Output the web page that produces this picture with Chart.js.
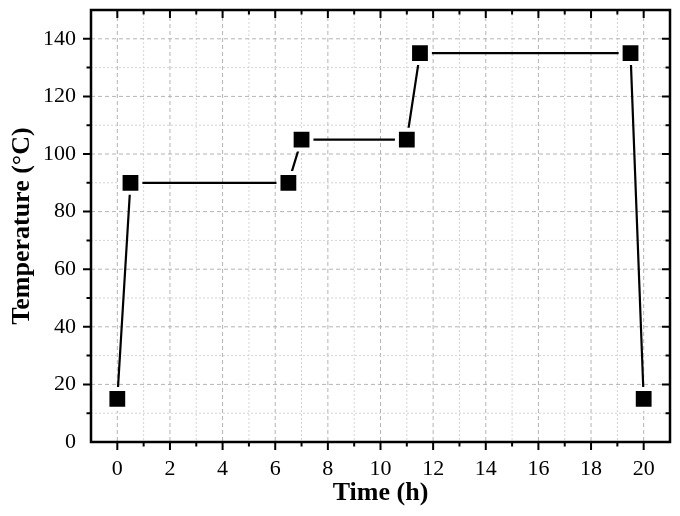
<!DOCTYPE html>
<html>
<head>
<meta charset="utf-8">
<script src="https://cdn.jsdelivr.net/npm/chart.js@4"></script>
<style>
  html, body { margin: 0; padding: 0; background: #fff; }
  #wrap { width: 680px; height: 516px; }
</style>
</head>
<body>
<div id="wrap"><canvas id="myChart"></canvas></div>
<script>
  // heating program: time in hours, temperature in °C
  const timeH = [0, 0.5, 6.5, 7, 11, 11.5, 19.5, 20];
  const tempC = [15, 90, 90, 105, 105, 135, 135, 15];
  const xTickLabels = [0, 2, 4, 6, 8, 10, 12, 14, 16, 18, 20];
  const yTickLabels = [0, 20, 40, 60, 80, 100, 120, 140];

  const serif = "'Liberation Serif', 'Times New Roman', serif";

  // no extra room for half labels at the axis ends
  const noPad = (s) => {
    s.paddingTop = 0;
    s.paddingBottom = 0;
    s.paddingLeft = 0;
    s.paddingRight = 0;
  };

  // grid lines (major dashed, minor dotted) + frame with Origin-style ticks
  const framePlugin = {
    id: "frame",
    beforeDatasetsDraw(chart) {
      const { ctx, chartArea: a, scales: { x, y } } = chart;
      ctx.save();
      ctx.lineWidth = 1;
      x.ticks.forEach((t) => {
        const px = x.getPixelForValue(t.value);
        const major = t.value % 2 === 0;
        ctx.strokeStyle = major ? "#b4b4b4" : "#d4d4d4";
        ctx.setLineDash(major ? [4, 3] : [2, 2]);
        ctx.beginPath();
        ctx.moveTo(px, a.top);
        ctx.lineTo(px, a.bottom);
        ctx.stroke();
      });
      y.ticks.forEach((t) => {
        const py = y.getPixelForValue(t.value);
        const major = t.value % 20 === 0;
        ctx.strokeStyle = major ? "#b4b4b4" : "#d4d4d4";
        ctx.setLineDash(major ? [4, 3] : [2, 2]);
        ctx.beginPath();
        ctx.moveTo(a.left, py);
        ctx.lineTo(a.right, py);
        ctx.stroke();
      });
      ctx.restore();
    },
    afterDraw(chart) {
      const { ctx, chartArea: a, scales: { x, y } } = chart;
      ctx.save();
      ctx.setLineDash([]);
      ctx.strokeStyle = "#000";
      ctx.lineWidth = 2.5;
      ctx.strokeRect(a.left, a.top, a.right - a.left, a.bottom - a.top);
      ctx.lineWidth = 2;
      x.ticks.forEach((t) => {
        if (t.value < 0 || t.value > 20) return;
        const px = x.getPixelForValue(t.value);
        const len = t.value % 2 === 0 ? 8 : 4.5;
        ctx.beginPath();
        ctx.moveTo(px, a.bottom);
        ctx.lineTo(px, a.bottom + len);
        ctx.moveTo(px, a.top);
        ctx.lineTo(px, a.top + len);
        ctx.stroke();
      });
      y.ticks.forEach((t) => {
        if (t.value <= 0 || t.value >= 150) return;
        const py = y.getPixelForValue(t.value);
        const len = t.value % 20 === 0 ? 8 : 4.5;
        ctx.beginPath();
        ctx.moveTo(a.left, py);
        ctx.lineTo(a.left - len, py);
        ctx.moveTo(a.right, py);
        ctx.lineTo(a.right - len, py);
        ctx.stroke();
      });
      ctx.restore();
    },
  };

  const ctx = document.getElementById("myChart").getContext("2d");
  new Chart(ctx, {
    type: "line",
    data: {
      datasets: [{
        data: timeH.map((t, i) => ({ x: t, y: tempC[i] })),
        borderColor: "#000",
        borderWidth: 2.2,
        tension: 0,
        fill: false,
        pointStyle: "rect",
        pointRadius: 14,
        pointHoverRadius: 14,
        pointBackgroundColor: "#000",
        pointBorderColor: "#fff",
        pointBorderWidth: 4,
        clip: false,
      }],
    },
    options: {
      responsive: true,
      maintainAspectRatio: false,
      animation: false,
      events: [],
      layout: { autoPadding: false, padding: { top: 10, right: 10, left: 0, bottom: 0 } },
      plugins: { legend: { display: false }, tooltip: { enabled: false } },
      scales: {
        x: {
          type: "linear",
          min: -1,
          max: 21,
          grid: { display: false, drawTicks: false },
          border: { display: false },
          afterFit: (s) => { s.height = 74; noPad(s); },
          ticks: {
            stepSize: 1,
            autoSkip: false,
            maxRotation: 0,
            padding: 14,
            color: "#000",
            font: { family: serif, size: 22 },
            callback: (v) => (xTickLabels.includes(v) ? String(v) : ""),
          },
          title: {
            display: true,
            text: "Time (h)",
            color: "#000",
            font: { family: serif, size: 26, weight: "bold" },
            padding: { top: 0, bottom: 7 },
          },
        },
        y: {
          type: "linear",
          min: 0,
          max: 150,
          grid: { display: false, drawTicks: false },
          border: { display: false },
          afterFit: (s) => { s.width = 91; noPad(s); },
          ticks: {
            stepSize: 10,
            autoSkip: false,
            padding: 15,
            color: "#000",
            font: { family: serif, size: 22 },
            callback: (v) => (yTickLabels.includes(v) ? String(v) : ""),
          },
          title: {
            display: true,
            text: "Temperature (°C)",
            color: "#000",
            font: { family: serif, size: 26, weight: "bold" },
            padding: { top: 7, bottom: 0 },
          },
        },
      },
    },
    plugins: [framePlugin],
  });
</script>
</body>
</html>
